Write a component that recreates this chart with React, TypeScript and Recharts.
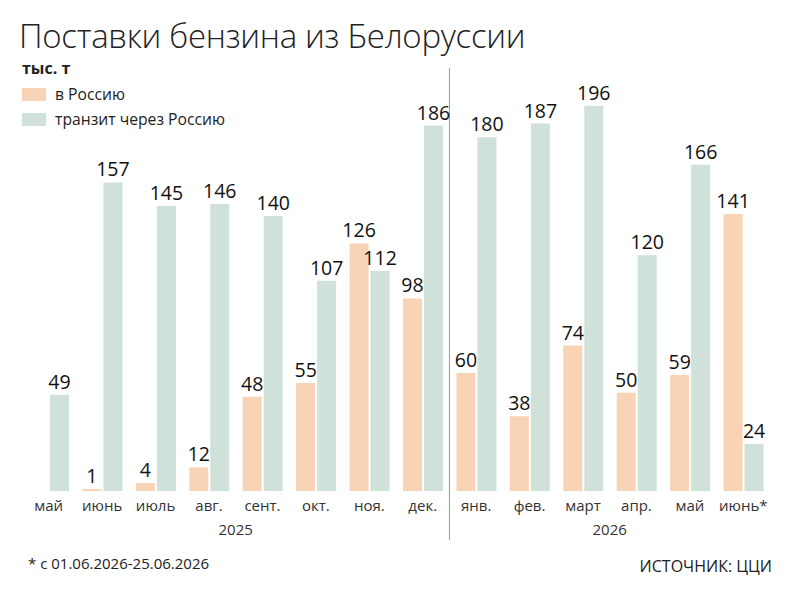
import { BarChart, Bar, XAxis, YAxis, LabelList, ReferenceLine } from 'recharts';

const monthLabels = ['май', 'июнь', 'июль', 'авг.', 'сент.', 'окт.', 'ноя.', 'дек.', 'янв.', 'фев.', 'март', 'апр.', 'май', 'июнь*'];
const years = ['2025', '2025', '2025', '2025', '2025', '2025', '2025', '2025', '2026', '2026', '2026', '2026', '2026', '2026'];
const toRussia = [0, 1, 4, 12, 48, 55, 126, 98, 60, 38, 74, 50, 59, 141];
const transit = [49, 157, 145, 146, 140, 107, 112, 186, 180, 187, 196, 120, 166, 24];

const data = monthLabels.map((m, i) => ({
  id: `${m}-${years[i]}-${i}`,
  month: m,
  year: years[i],
  russia: toRussia[i],
  transit: transit[i],
}));

const W = 800;
const H = 607;
const AXIS_H = 30;
const margin = { top: 98, right: 30, bottom: 116 - AXIS_H, left: 22 };
const band = (W - margin.left - margin.right) / monthLabels.length;

const PEACH = '#f9d3b6';
const GREEN = '#cfe1d9';
const FONT = '"Open Sans", "Noto Sans", sans-serif';

function MonthTick(props: any) {
  const { x, y, index } = props;
  const label = monthLabels[index];
  // year caption under the middle of each group
  let year = null;
  if (index === 3) {
    year = <text x={band / 2} y={36} textAnchor="middle" fontSize={15} fill="#333">2025</text>;
  }
  if (index === 10) {
    year = <text x={band / 2} y={36} textAnchor="middle" fontSize={15} fill="#333">2026</text>;
  }
  return (
    <g transform={`translate(${x},${y})`} fontFamily={FONT}>
      <text x={0} y={12} textAnchor="middle" fontSize={15} fill="#333">{label}</text>
      {year}
    </g>
  );
}

const labelStyle = { fontSize: 19.5, fontWeight: 500, fill: '#111', fontFamily: FONT };

export default function App() {
  return (
    <div style={{ position: 'absolute', left: 0, top: 0, width: W, height: H, background: '#fff', fontFamily: FONT, color: '#222' }}>
      <div style={{ position: 'absolute', left: 19, top: 13, fontSize: 33, fontWeight: 300, letterSpacing: -0.3 }}>
        Поставки бензина из Белоруссии
      </div>
      <div style={{ position: 'absolute', left: 22, top: 57, fontSize: 16, fontWeight: 700 }}>тыс. т</div>
      <div style={{ position: 'absolute', left: 22, top: 88, width: 24, height: 13, background: PEACH }} />
      <div style={{ position: 'absolute', left: 55, top: 83, fontSize: 15.7 }}>в Россию</div>
      <div style={{ position: 'absolute', left: 22, top: 113, width: 24, height: 13, background: GREEN }} />
      <div style={{ position: 'absolute', left: 55, top: 108, fontSize: 15.7 }}>транзит через Россию</div>
      <div style={{ position: 'absolute', left: 28, top: 553, fontSize: 15 }}>* с 01.06.2026-25.06.2026</div>
      <div style={{ position: 'absolute', right: 28, top: 555, fontSize: 16 }}>ИСТОЧНИК: ЦЦИ</div>
      <div style={{ position: 'absolute', left: 0, top: 0 }}>
        <BarChart width={W} height={H} data={data} margin={margin} barGap={2} barSize={19}>
          <XAxis dataKey="id" height={AXIS_H} axisLine={false} tickLine={false} interval={0} tick={<MonthTick />} />
          <YAxis hide domain={[0, 200]} />
          <ReferenceLine
            x={data[8].id}
            position="start"
            stroke="#999"
            strokeWidth={1}
            shape={(p: any) => (
              <line x1={p.x1} x2={p.x2} y1={Math.min(p.y1, p.y2) - 30} y2={Math.max(p.y1, p.y2) + 49} stroke="#999" strokeWidth={1} />
            )}
          />
          <Bar dataKey="russia" fill={PEACH} isAnimationActive={false}>
            <LabelList
              dataKey="russia"
              position="top"
              offset={6}
              formatter={(v: any) => (v ? v : '')}
              style={labelStyle}
            />
          </Bar>
          <Bar dataKey="transit" fill={GREEN} isAnimationActive={false}>
            <LabelList dataKey="transit" position="top" offset={6} style={labelStyle} />
          </Bar>
        </BarChart>
      </div>
    </div>
  );
}
